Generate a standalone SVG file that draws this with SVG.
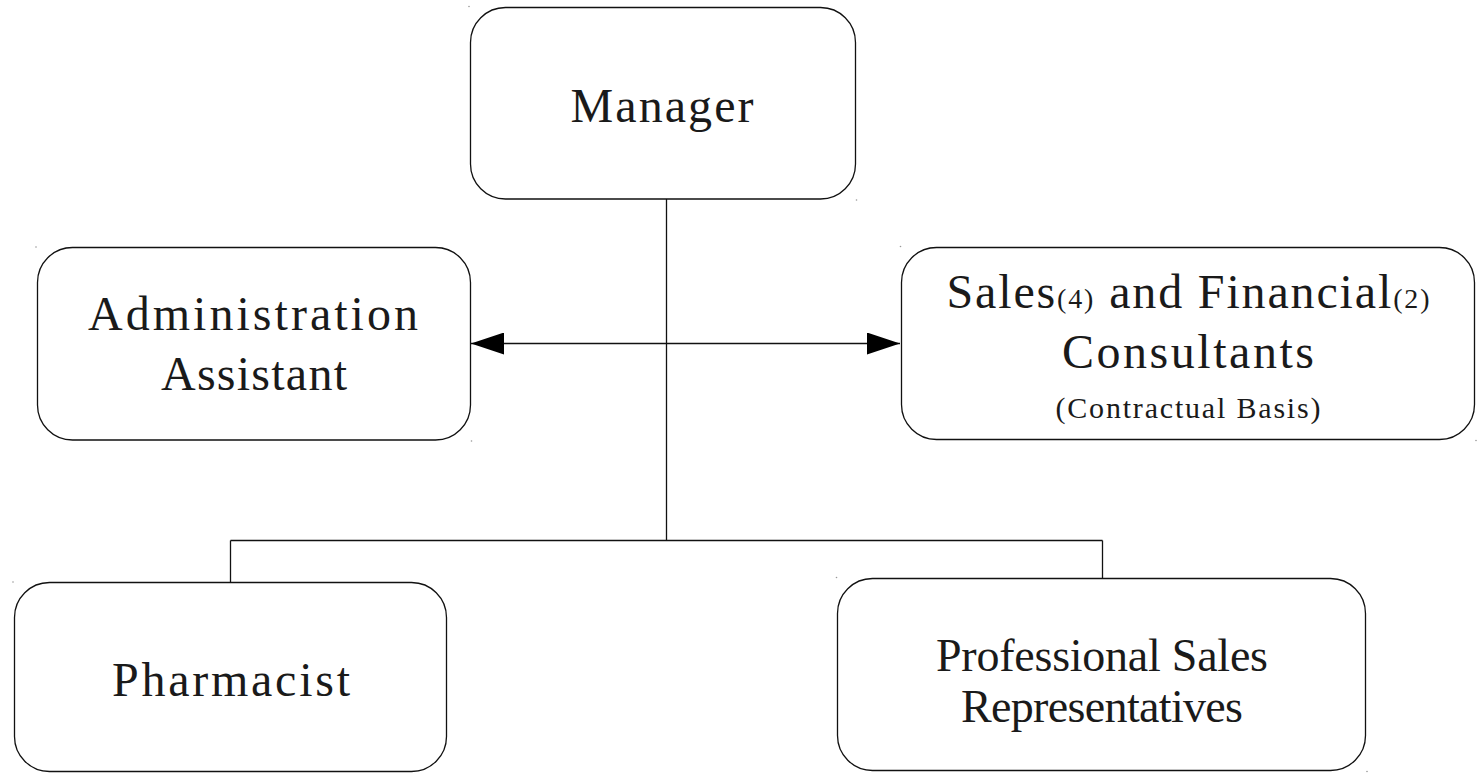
<svg xmlns="http://www.w3.org/2000/svg" width="1478" height="773" viewBox="0 0 1478 773">
<defs>
<style>
.box{fill:#fff;stroke:#111;stroke-width:1.3}
.lbl{font-family:"Liberation Serif","Times New Roman",serif;font-size:48px;fill:#1a1a1a;text-anchor:middle}
.sm{font-size:28px}
.sub{font-size:30px}
.pr{font-size:46px}
.ln{fill:none;stroke:#111;stroke-width:1.3}
.dot{fill:#999}
</style>
<marker id="ah" viewBox="0 0 33 22" refX="33" refY="11" markerWidth="33" markerHeight="22" markerUnits="userSpaceOnUse" orient="auto-start-reverse">
<path d="M0,0 L33,11 L0,22 Z" fill="#000"/>
</marker>
</defs>
<rect width="1478" height="773" fill="#fff"/>
<g id="connectors">
<line class="ln" x1="666.5" y1="199" x2="666.5" y2="540.5"/>
<line class="ln" x1="230.5" y1="540.5" x2="1102.5" y2="540.5"/>
<line class="ln" x1="230.5" y1="540.5" x2="230.5" y2="582"/>
<line class="ln" x1="1102.5" y1="540.5" x2="1102.5" y2="578"/>
<line class="ln" x1="471" y1="343.5" x2="900" y2="343.5" marker-start="url(#ah)" marker-end="url(#ah)"/>
</g>
<g id="manager">
<rect class="box" x="470.5" y="7.5" width="385" height="191.5" rx="35" ry="35"/>
<text class="lbl" x="662" y="122" textLength="183" lengthAdjust="spacing">Manager</text>
</g>
<g id="admin">
<rect class="box" x="37.5" y="247.5" width="433" height="192.5" rx="35" ry="35"/>
<text class="lbl" x="253" y="330" textLength="330" lengthAdjust="spacing">Administration</text>
<text class="lbl" x="254" y="390" textLength="186" lengthAdjust="spacing">Assistant</text>
</g>
<g id="consultants">
<rect class="box" x="901.5" y="247.5" width="573" height="192" rx="35" ry="35"/>
<text class="lbl" x="1188" y="308" textLength="483" lengthAdjust="spacing">Sales<tspan class="sm">(4)</tspan> and Financial<tspan class="sm">(2)</tspan></text>
<text class="lbl" x="1188" y="368" textLength="252" lengthAdjust="spacing">Consultants</text>
<text class="lbl sub" x="1188" y="418" textLength="265" lengthAdjust="spacing">(Contractual Basis)</text>
</g>
<g id="pharmacist">
<rect class="box" x="14.5" y="582.5" width="432" height="189" rx="35" ry="35"/>
<text class="lbl" x="231" y="696" textLength="238" lengthAdjust="spacing">Pharmacist</text>
</g>
<g id="sales-reps">
<rect class="box" x="837.5" y="578.5" width="528" height="192" rx="35" ry="35"/>
<text class="lbl pr" x="1102" y="671" textLength="332" lengthAdjust="spacing">Professional Sales</text>
<text class="lbl pr" x="1102" y="722" textLength="282" lengthAdjust="spacing">Representatives</text>
</g>
<g id="marks">
<circle class="dot" cx="469" cy="6.5" r="0.8"/>
<circle class="dot" cx="856.5" cy="200" r="0.8"/>
<circle class="dot" cx="36" cy="247" r="0.8"/>
<circle class="dot" cx="471.5" cy="441" r="0.8"/>
<circle class="dot" cx="900.5" cy="246.5" r="0.8"/>
<circle class="dot" cx="1476" cy="440.5" r="0.8"/>
<circle class="dot" cx="13" cy="582" r="0.8"/>
<circle class="dot" cx="836.5" cy="577.5" r="0.8"/>
<circle class="dot" cx="1367" cy="771.5" r="0.8"/>
</g>
</svg>
